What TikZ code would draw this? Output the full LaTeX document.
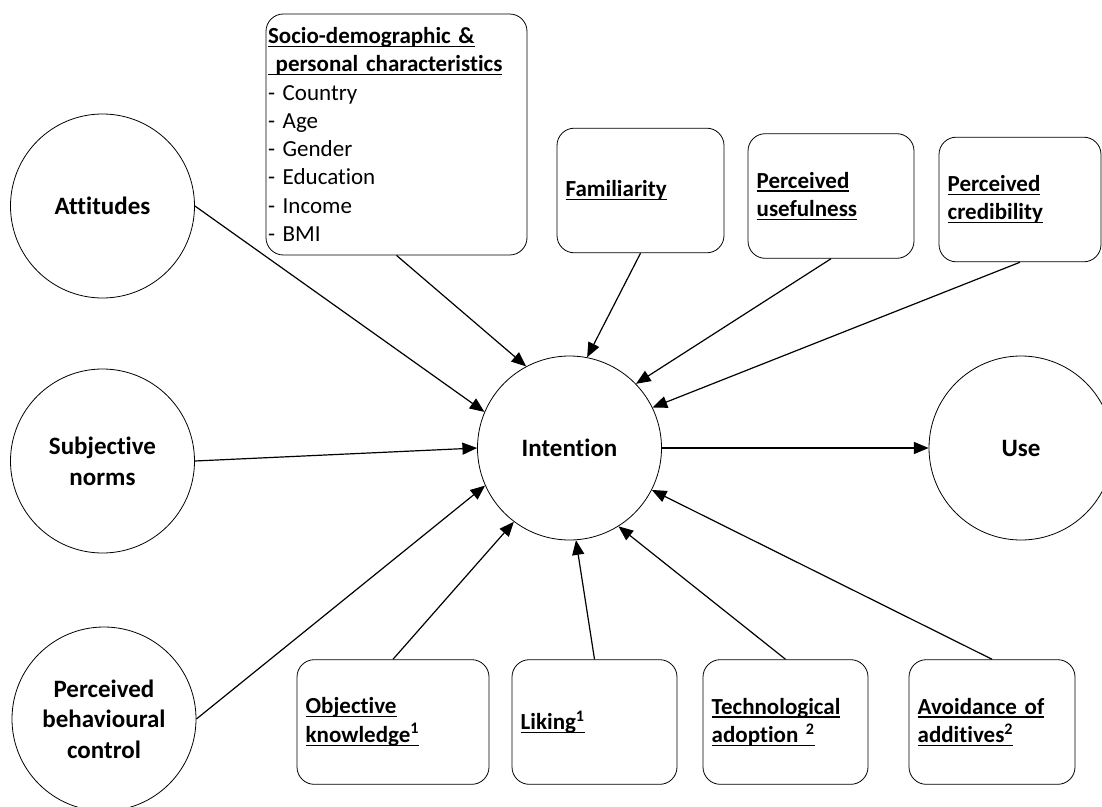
\documentclass[tikz,border=0pt]{standalone}
\usepackage{fontspec}
\setmainfont{Carlito}[Ligatures=NoCommon]
\usetikzlibrary{arrows.meta}
\newsavebox{\ulsave}
\newcommand{\ulword}[1]{\leavevmode\sbox{\ulsave}{\bfseries #1}\rlap{\rule[-2.6pt]{\wd\ulsave}{0.9pt}}\usebox{\ulsave}}

\begin{document}
\begin{tikzpicture}[x=0.75pt,y=-0.75pt,
  construct/.style={draw, circle, line width=0.6pt, minimum size=138pt, inner sep=0pt, align=center,
    font=\fontsize{18.75}{23}\selectfont\bfseries},
  factor/.style={draw, rectangle, rounded corners=13pt, line width=0.6pt, minimum height=93.5pt,
    inner sep=6.5pt, align=left, font=\fontsize{17.25}{21.2}\selectfont},
  link/.style={-{Triangle[length=11pt,width=9pt]}, line width=0.9pt}]
\useasboundingbox (0,0) rectangle (1102,806);
\clip (0,0) rectangle (1102,806);

\node[construct] (att) at (102.5,206) {Attitudes};
\node[construct] (subj) at (102.5,461) {Subjective\\norms};
\node[construct] (pbc) at (104,719) {Perceived\\behavioural\\control};
\node[construct] (int) at (569.5,448) {Intention};
\node[construct] (use) at (1021,448) {Use};

\node[factor, text width=192.75pt, minimum height=180.75pt, inner sep=1.5pt] (socio) at (396.5,134.5)
  {\ulword{Socio-demographic \&}\\\ulword{\ personal characteristics}\\- Country\\- Age\\- Gender\\- Education\\- Income\\- BMI};
\node[factor, text width=112.25pt] (famil) at (640.5,190.5) {\ulword{Familiarity}};
\node[factor, text width=111.5pt] (useful) at (831,196) {\ulword{Perceived}\\\ulword{usefulness}};
\node[factor, text width=108.5pt] (cred) at (1020,199.5) {\ulword{Perceived}\\\ulword{credibility}};
\node[factor, text width=131pt] (obj) at (393,722) {\ulword{Objective}\\\ulword{knowledge\textsuperscript{1}}};
\node[factor, text width=110.75pt] (liking) at (594.5,722) {\ulword{Liking\textsuperscript{1}}};
\node[factor, text width=110.75pt] (techno) at (785.5,722) {\ulword{Technological}\\\ulword{adoption \textsuperscript{2}}};
\node[factor, text width=111.5pt] (avoid) at (992,722) {\ulword{Avoidance of}\\\ulword{additives\textsuperscript{2}}};

\draw[link] (att.east) -- (int.157);
\draw[link] (subj.east) -- (int.180);
\draw[link] (pbc.east) -- (int.204);
\draw[link] (socio.south) -- (int.118);
\draw[link] (famil.south) -- (int.79);
\draw[link] (useful.south) -- (int.44);
\draw[link] (cred.south) -- (int.26);
\draw[link] (obj.north) -- (int.233);
\draw[link] (liking.north) -- (int.274);
\draw[link] (techno.north) -- (int.302);
\draw[link] (avoid.north) -- (int.333);
\draw[link] (int.east) -- (use.west);
\end{tikzpicture}
\end{document}
